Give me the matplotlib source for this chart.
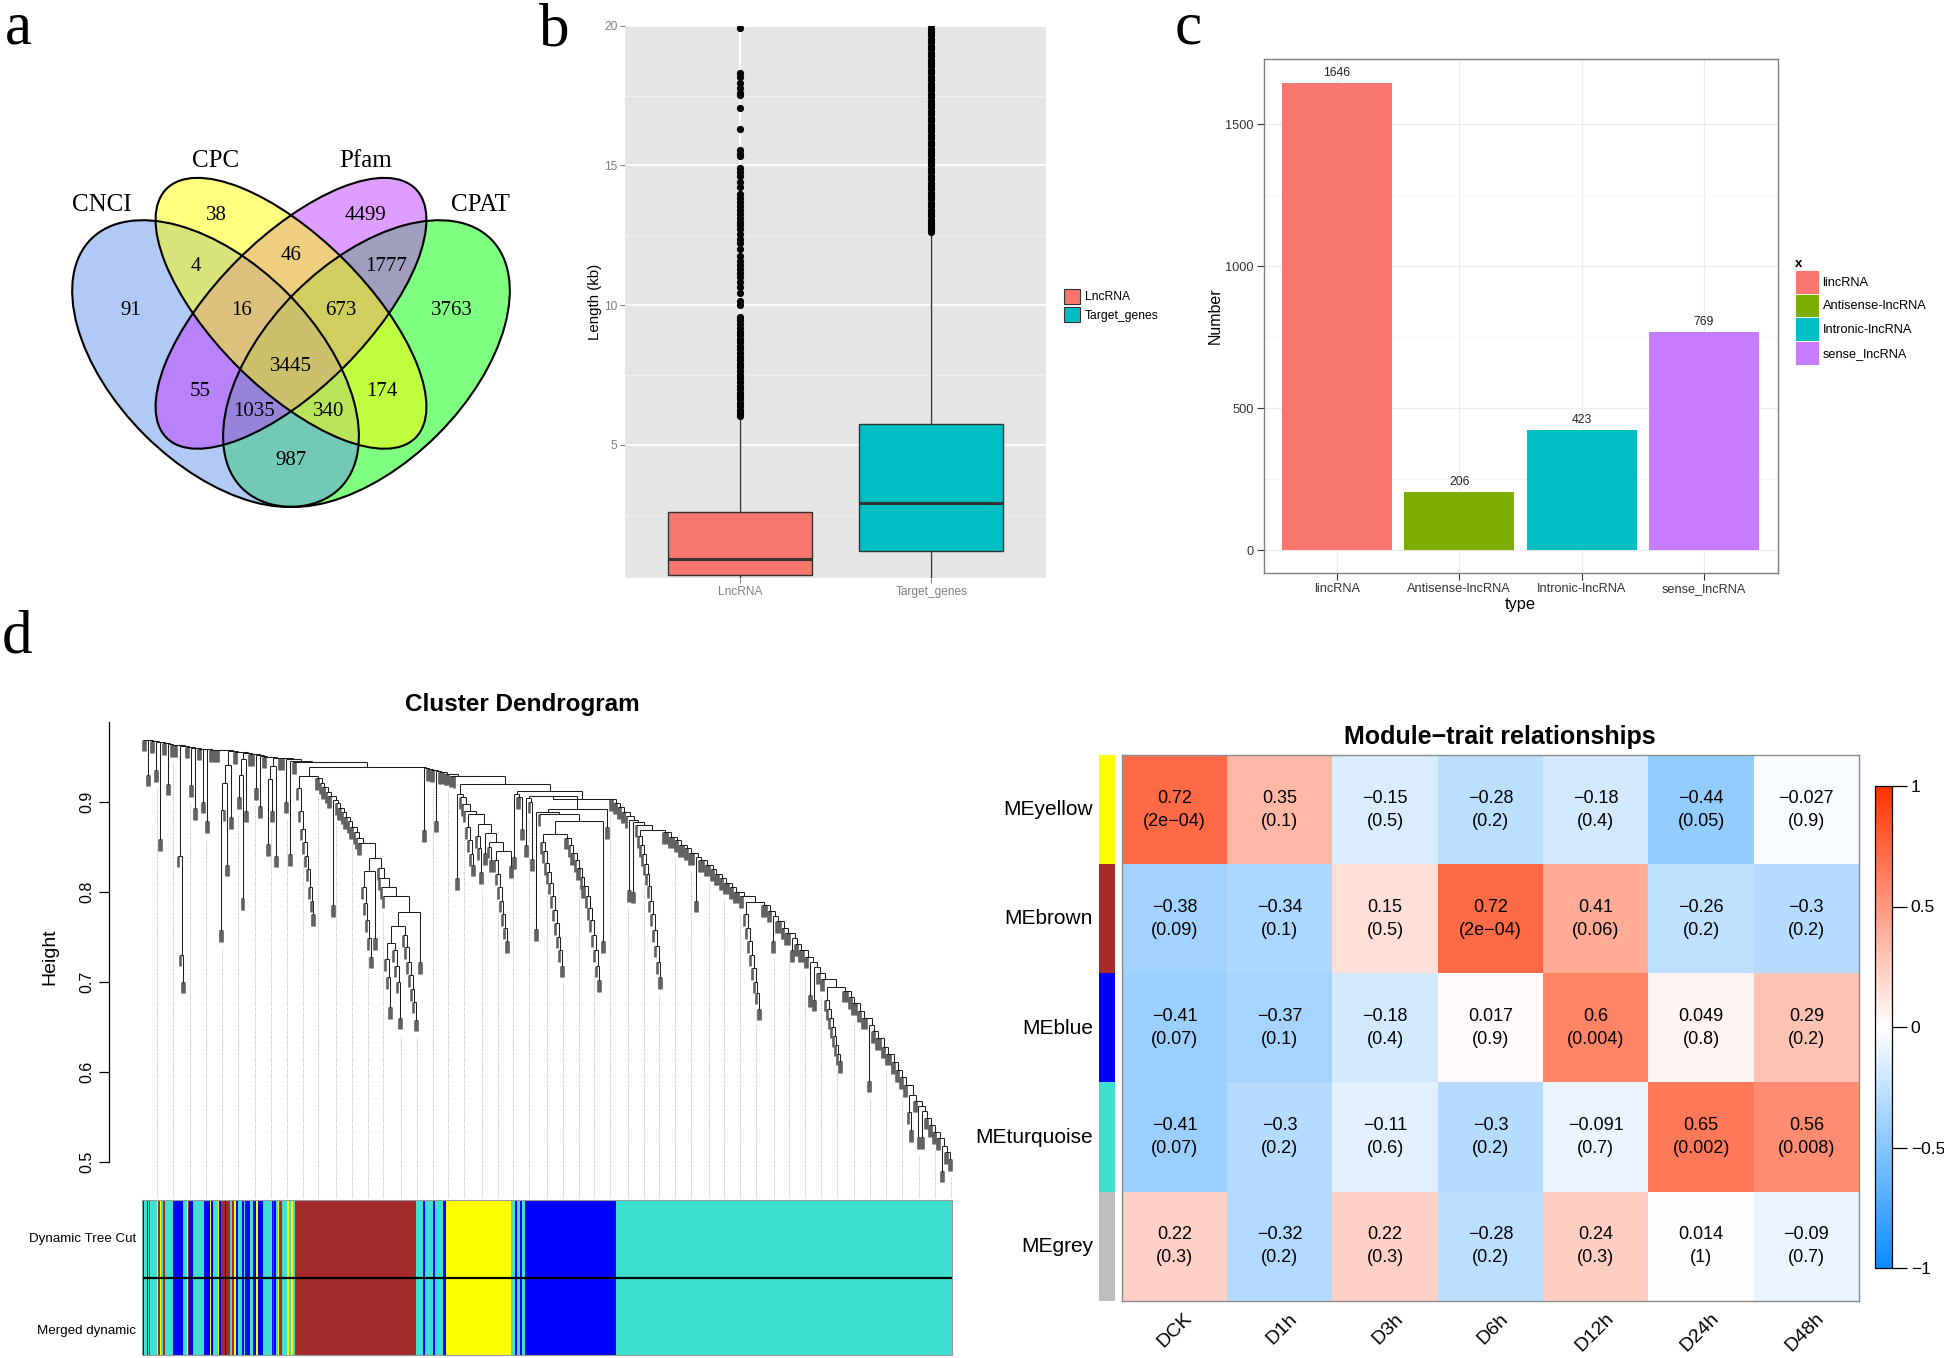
import numpy as np
import matplotlib
matplotlib.use("Agg")
import matplotlib.pyplot as plt
from matplotlib.patches import Ellipse, Patch
from matplotlib.collections import LineCollection
from matplotlib.colors import LinearSegmentedColormap, to_rgb
import matplotlib.transforms as mtransforms

plt.rcParams['font.family'] = ['Liberation Sans', 'DejaVu Sans']
SERIF = ['Liberation Serif', 'DejaVu Serif']

# ============================ DATA ============================
# Panel a: Venn diagram of coding-potential tools
venn_sets = ["CNCI", "CPC", "Pfam", "CPAT"]
venn_fill = ["#6495ED", "#FFFF00", "#BF3EFF", "#00FF00"]
venn_region_keys = ["CNCI", "CPC", "Pfam", "CPAT",
                    "CNCI&CPC", "CPC&Pfam", "Pfam&CPAT",
                    "CNCI&CPC&Pfam", "CPC&Pfam&CPAT", "CNCI&CPC&Pfam&CPAT",
                    "CNCI&Pfam", "CPC&CPAT", "CNCI&Pfam&CPAT", "CNCI&CPC&CPAT",
                    "CNCI&CPAT"]
venn_region_counts = [91, 38, 4499, 3763, 4, 46, 1777, 16, 673, 3445,
                      55, 174, 1035, 340, 987]

# Panel b: length boxplots (kb)
len_categories = ["LncRNA", "Target_genes"]
len_colors = ["#F8766D", "#00BFC4"]
len_q1 = [0.33, 1.18]
len_median = [0.92, 2.91]
len_q3 = [2.58, 5.73]
len_whisker_low = [0.05, 0.10]
len_whisker_high = [5.98, 12.56]
lnc_outliers = [19.93, 18.30, 18.16, 17.95, 17.78, 17.59, 17.52, 17.07, 16.32,
                15.54, 15.42, 15.33, 14.90, 14.76, 14.62, 14.41, 14.24, 13.98,
                13.84, 13.70, 13.56, 13.41, 13.27, 13.13, 12.99, 12.85, 12.71,
                12.54, 12.35, 12.21, 12.00, 11.74, 11.57, 11.43, 11.29, 11.15,
                11.01, 10.84, 10.65, 10.44, 10.16, 9.99, 9.59, 9.45, 9.31, 9.18,
                9.05, 8.93, 8.80, 8.66, 8.52, 8.41, 8.28, 8.15, 8.02, 7.90, 7.77,
                7.63, 7.50, 7.38, 7.25, 7.12, 7.00, 6.87, 6.74, 6.62, 6.50, 6.37,
                6.25, 6.12, 6.03]
target_outliers = [12.60, 12.71, 12.83, 12.94, 13.06, 13.19, 13.30, 13.42, 13.55,
                   13.66, 13.78, 13.91, 14.02, 14.15, 14.27, 14.38, 14.51, 14.63,
                   14.75, 14.88, 15.00, 15.12, 15.24, 15.37, 15.49, 15.60, 15.73,
                   15.85, 15.97, 16.10, 16.22, 16.34, 16.46, 16.58, 16.71, 16.83,
                   16.95, 17.08, 17.20, 17.32, 17.44, 17.57, 17.69, 17.81, 17.93,
                   18.06, 18.18, 18.30, 18.42, 18.55, 18.67, 18.79, 18.91, 19.04,
                   19.16, 19.28, 19.40, 19.53, 19.65, 19.77, 19.89, 20.02, 20.14]

# Panel c: lncRNA types
type_categories = ["lincRNA", "Antisense-lncRNA", "Intronic-lncRNA", "sense_lncRNA"]
type_counts = [1646, 206, 423, 769]
type_colors = ["#F8766D", "#7CAE00", "#00BFC4", "#C77CFF"]

# Panel d (right): module-trait relationships
traits = ["DCK", "D1h", "D3h", "D6h", "D12h", "D24h", "D48h"]
modules = ["MEyellow", "MEbrown", "MEblue", "MEturquoise", "MEgrey"]
module_colors = ["yellow", "brown", "blue", "turquoise", "grey"]
cor_values = [
    [0.72, 0.35, -0.15, -0.28, -0.18, -0.44, -0.027],
    [-0.38, -0.34, 0.15, 0.72, 0.41, -0.26, -0.3],
    [-0.41, -0.37, -0.18, 0.017, 0.6, 0.049, 0.29],
    [-0.41, -0.3, -0.11, -0.3, -0.091, 0.65, 0.56],
    [0.22, -0.32, 0.22, -0.28, 0.24, 0.014, -0.09],
]
p_values = [
    ["2e-04", "0.1", "0.5", "0.2", "0.4", "0.05", "0.9"],
    ["0.09", "0.1", "0.5", "2e-04", "0.06", "0.2", "0.2"],
    ["0.07", "0.1", "0.4", "0.9", "0.004", "0.8", "0.2"],
    ["0.07", "0.2", "0.6", "0.2", "0.7", "0.002", "0.008"],
    ["0.3", "0.2", "0.3", "0.2", "0.3", "1", "0.7"],
]

# Panel d (left): module colour runs along dendrogram leaf order (genes)
run_colors = ["turquoise", "blue", "turquoise", "blue", "turquoise", "brown", "turquoise",
              "yellow", "brown", "yellow", "turquoise", "brown", "turquoise", "blue",
              "turquoise", "yellow", "brown", "blue", "turquoise", "blue", "yellow", "blue",
              "turquoise", "yellow", "blue", "brown", "blue", "brown", "turquoise", "brown",
              "yellow", "blue", "turquoise", "blue", "turquoise", "blue", "turquoise", "blue",
              "yellow", "blue", "turquoise", "blue", "brown", "blue", "turquoise", "yellow",
              "brown", "turquoise", "yellow", "turquoise", "yellow", "turquoise", "brown",
              "turquoise", "blue", "turquoise", "blue", "turquoise", "blue", "yellow",
              "turquoise", "blue", "turquoise", "blue", "turquoise", "blue", "turquoise"]
run_sizes = [5, 3, 7, 3, 4, 3, 20, 5, 4, 4, 7, 4, 24, 32, 10, 4, 4, 10, 34, 18, 4, 6,
             15, 3, 4, 12, 4, 12, 6, 6, 5, 7, 12, 6, 4, 14, 10, 8, 6, 14, 27, 4, 4, 5, 6,
             4, 8, 14, 6, 8, 6, 5, 365, 20, 7, 23, 7, 23, 8, 197, 12, 6, 7, 8, 7, 276, 1008]

R_COLORS = {"yellow": "#FFFF00", "brown": "#A52A2A", "blue": "#0000FF",
            "turquoise": "#40E0D0", "grey": "#BEBEBE", "red": "#FF0000"}


# ---- dendrogram merge structure (heights) ----
def P(h):
    return (h, 'L', 'L')


def S(steps, tail):
    """staircase descending to the right: each step joins a child at height h"""
    node = tail
    for h, child in reversed(steps):
        if isinstance(child, int):
            for _ in range(child):
                node = (h, 'L', node)
        else:
            node = (h, child, node)
    return node


# turquoise module (right-hand cascade), built from the bottom up
T_i = S([(0.568, 2), (0.562, P(0.527)), (0.556, P(0.527)), (0.549, 2), (0.541, 2),
         (0.533, 2), (0.526, 2), (0.518, P(0.490)), (0.511, 2)], P(0.503))
T_h = (0.574, S([(0.555, 1)], P(0.535)), T_i)
T_g = S([(0.690, 3), (0.683, 2), (0.676, 3), (0.668, 2), (0.660, 3), (0.652, P(0.590)),
         (0.645, 2), (0.637, 3), (0.628, 2), (0.620, 3), (0.611, 2), (0.602, 2),
         (0.594, 2), (0.585, 2)], T_h)
T_f = (0.694, S([(0.680, 1), (0.670, 1), (0.660, 1), (0.650, 1), (0.640, 1), (0.630, 1),
                 (0.620, 1)], P(0.612)), T_g)
T_e = S([(0.785, 3), (0.779, 2), (0.773, P(0.745)), (0.767, 3), (0.760, 2), (0.754, 3),
         (0.748, P(0.735)), (0.742, 2), (0.735, 3), (0.728, 2), (0.722, P(0.685)),
         (0.716, P(0.680)), (0.710, 2), (0.703, 2)], T_f)
T_d = (0.788, S([(0.775, 1), (0.760, 1), (0.745, 1), (0.730, 1), (0.715, 1), (0.700, 1),
                 (0.688, 1)], P(0.670)), T_e)
T_c = S([(0.866, 3), (0.861, 3), (0.857, 2), (0.852, 3), (0.848, 2), (0.843, 3),
         (0.839, P(0.790)), (0.835, 3), (0.830, 3), (0.825, 2), (0.820, 3), (0.815, 2),
         (0.810, 3), (0.805, 2), (0.800, 3), (0.795, 2)], T_d)
T_b = (0.869, S([(0.862, 1), (0.852, 1), (0.842, 1), (0.831, 1), (0.820, 1), (0.806, 1),
                 (0.790, 1), (0.775, 1), (0.757, 1), (0.740, 1), (0.722, 1)], P(0.705)), T_c)
TURQ = S([(0.903, 2), (0.899, 2), (0.894, 2), (0.889, 2), (0.884, 1), (0.880, P(0.802)),
          (0.877, P(0.800)), (0.874, 1)], T_b)

# blue module
B_left = S([(0.855, 1), (0.845, 1), (0.832, 1), (0.822, 1), (0.810, 1), (0.795, 1),
            (0.780, 1), (0.765, 1), (0.750, 1), (0.735, 1)], P(0.718))
B_right = S([(0.860, 2), (0.852, 1), (0.843, 2), (0.835, 1), (0.826, 2), (0.816, 1),
             (0.806, 2), (0.795, 1), (0.782, 1), (0.768, 1), (0.752, 1), (0.735, 1),
             (0.718, 1)], P(0.702))
B_core = (0.878, (0.864, B_left, B_right), P(0.745))
B_mid = (0.892, S([(0.889, P(0.758)), (0.886, 1)], B_core), P(0.872))
BLUE = (0.906, S([(0.904, P(0.852)), (0.900, 1)], P(0.836)), B_mid)

A1 = S([(0.908, P(0.838)), (0.905, 2)], P(0.870))

# yellow module
Y_e = (0.845, S([(0.835, 1), (0.820, 1), (0.805, 1), (0.790, 1), (0.775, 1), (0.760, 1)],
                P(0.745)), P(0.828))
Y_d = (0.855, S([(0.850, 1)], P(0.835)), Y_e)
Y_c = (0.865, P(0.843), Y_d)
Y_b = (0.875, S([(0.862, 1), (0.848, 1)], P(0.822)), Y_c)
Y_a = (0.886, S([(0.872, 1), (0.857, 1), (0.842, 1)], P(0.830)), Y_b)
YELLOW = S([(0.909, P(0.815)), (0.905, 1), (0.897, 1), (0.890, 1)], Y_a)

RIGHT = S([(0.937, P(0.868)), (0.936, 2), (0.935, 2), (0.934, P(0.879)), (0.933, 3),
           (0.931, 3), (0.929, 2), (0.928, 1)],
          (0.920, YELLOW, (0.912, A1, (0.903, BLUE, TURQ))))

# brown module
Br_deep = (0.777,
           (0.762,
            (0.743, S([(0.725, 1), (0.705, 1)], P(0.672)),
             S([(0.735, 1), (0.718, 1), (0.700, 1)], P(0.660))),
            S([(0.752, 1), (0.738, 1), (0.722, 1), (0.707, 1), (0.692, 1), (0.678, 1)],
              P(0.658))),
           P(0.722))
Br_sub = (0.837,
          (0.823, S([(0.805, 1), (0.787, 1), (0.768, 1), (0.748, 1)], P(0.728)), P(0.748)),
          S([(0.826, 1), (0.815, 1), (0.805, 1), (0.795, 1)], Br_deep))
Br_right = S([(0.926, 2), (0.921, 1), (0.916, 2), (0.911, 1), (0.906, 2), (0.902, P(0.785)),
              (0.898, 1), (0.893, 2), (0.888, 1), (0.883, 2), (0.878, 1), (0.872, 2),
              (0.866, 1), (0.860, 1), (0.854, 2)], Br_sub)
Br_left = S([(0.915, 1), (0.890, 1), (0.870, 1), (0.855, 1), (0.840, 1), (0.825, 1),
             (0.805, 1), (0.790, 1)], P(0.775))
BROWN = (0.928, Br_left, Br_right)

# top-left cascade joining everything
DENDRO = S([
    (0.969, 2), (0.968, P(0.930)), (0.967, 2), (0.9665, P(0.935)), (0.966, P(0.858)),
    (0.965, 2), (0.964, P(0.920)), (0.963, 4),
    (0.962, S([(0.840, 1), (0.730, 1)], P(0.700))),
    (0.961, 2), (0.960, P(0.918)), (0.9595, P(0.893)), (0.959, 2), (0.9585, P(0.900)),
    (0.958, P(0.878)), (0.957, 5),
    (0.956, (0.941, (0.921, (0.891, P(0.757), 'L'), P(0.830)), P(0.883))),
    (0.955, 2),
    (0.9545, (0.947, (0.930, P(0.905), P(0.793)), P(0.890))),
    (0.953, 3), (0.952, P(0.915)), (0.951, P(0.895)), (0.950, 2),
    (0.949, (0.940, (0.925, P(0.853), P(0.890)), P(0.840))),
    (0.948, 3), (0.947, P(0.900)), (0.9455, P(0.842)), (0.944, 2)],
    (0.938, BROWN, RIGHT))

# ============================ FIGURE ============================
W, H, DPI = 1944, 1358, 100
fig = plt.figure(figsize=(W / DPI, H / DPI), dpi=DPI)


def px_axes(x0, y0, x1, y1):
    return fig.add_axes([x0 / W, 1 - y1 / H, (x1 - x0) / W, (y1 - y0) / H])


def ftext(x, y, s, **kw):
    return fig.text(x / W, 1 - y / H, s, **kw)


# panel letters
for lab, x, y in [("a", 5, 44), ("b", 539, 45), ("c", 1175, 43), ("d", 2, 652)]:
    ftext(x, y, lab, fontsize=44, family=SERIF, ha='left', va='baseline')

# ---------------- a: Venn ----------------
va = px_axes(39.5, 97, 542.5, 600)
va.set_xlim(0, 1)
va.set_ylim(0, 1)
va.axis('off')
ell_geom = {"CNCI": (0.35, 0.47, 0.35, 0.20, 135), "CPC": (0.50, 0.57, 0.35, 0.15, 135),
            "Pfam": (0.50, 0.57, 0.35, 0.15, 45), "CPAT": (0.65, 0.47, 0.35, 0.20, 45)}
draw_order = ["CPAT", "CNCI", "Pfam", "CPC"]
for name in draw_order:
    cx, cy, a, b, ang = ell_geom[name]
    col = venn_fill[venn_sets.index(name)]
    va.add_patch(Ellipse((cx, cy), 2 * a, 2 * b, angle=ang, facecolor=col, alpha=0.5,
                         edgecolor='none'))
for name in venn_sets:
    cx, cy, a, b, ang = ell_geom[name]
    va.add_patch(Ellipse((cx, cy), 2 * a, 2 * b, angle=ang, facecolor='none',
                         edgecolor='black', lw=1.5))
region_pos = {"CNCI": (0.181, 0.575), "CPC": (0.351, 0.765), "Pfam": (0.649, 0.765),
              "CPAT": (0.820, 0.575), "CNCI&CPC": (0.311, 0.664), "CPC&Pfam": (0.5, 0.685),
              "Pfam&CPAT": (0.690, 0.664), "CNCI&CPC&Pfam": (0.402, 0.575),
              "CPC&Pfam&CPAT": (0.599, 0.575), "CNCI&CPC&Pfam&CPAT": (0.5, 0.465),
              "CNCI&Pfam": (0.319, 0.414), "CPC&CPAT": (0.681, 0.414),
              "CNCI&Pfam&CPAT": (0.426, 0.374), "CNCI&CPC&CPAT": (0.575, 0.374),
              "CNCI&CPAT": (0.5, 0.277)}
for key, cnt in zip(venn_region_keys, venn_region_counts):
    x, y = region_pos[key]
    va.text(x, y, str(cnt), ha='center', va='center', fontsize=15, family=SERIF)
set_pos = {"CNCI": (0.124, 0.785), "CPC": (0.351, 0.873), "Pfam": (0.649, 0.873),
           "CPAT": (0.877, 0.785)}
for name in venn_sets:
    x, y = set_pos[name]
    va.text(x, y, name, ha='center', va='center', fontsize=18, family=SERIF)

# ---------------- b: boxplot ----------------
axb = px_axes(625, 25.7, 1046, 578)
axb.set_facecolor('#E5E5E5')
stats = []
for i, c in enumerate(len_categories):
    fl = lnc_outliers if i == 0 else target_outliers
    stats.append(dict(med=len_median[i], q1=len_q1[i], q3=len_q3[i],
                      whislo=len_whisker_low[i], whishi=len_whisker_high[i],
                      fliers=np.array(fl), label=c))
bp = axb.bxp(stats, positions=[1, 2], widths=0.75, patch_artist=True, showcaps=False,
             boxprops=dict(edgecolor='#333333', linewidth=1.0),
             medianprops=dict(color='#333333', linewidth=2.2),
             whiskerprops=dict(color='#333333', linewidth=1.0),
             flierprops=dict(marker='o', markerfacecolor='black', markeredgecolor='black',
                             markersize=4.2, linestyle='none'))
for patch, col in zip(bp['boxes'], len_colors):
    patch.set_facecolor(col)
axb.set_xlim(0.4, 2.6)
axb.set_ylim(0.23, 20.0)
axb.set_yticks([5, 10, 15, 20])
axb.set_yticks([2.5, 7.5, 12.5, 17.5], minor=True)
axb.set_xticks([1, 2])
axb.set_xticklabels(len_categories)
axb.set_axisbelow(True)
axb.grid(which='major', color='white', lw=1.3)
axb.grid(which='minor', axis='y', color='#F2F2F2', lw=0.6)
axb.tick_params(which='minor', length=0)
axb.tick_params(which='major', length=3.5, color='#7F7F7F', labelcolor='#7F7F7F',
                labelsize=8.6, pad=2)
for s in axb.spines.values():
    s.set_visible(False)
ftext(595, 302, "Length (kb)", rotation=90, ha='center', va='center', fontsize=10.8)
hb = [Patch(facecolor=c, edgecolor='#333333', lw=0.8) for c in len_colors]
axb.legend(hb, len_categories, loc='center left', bbox_to_anchor=(1064 / W, 1 - 305.5 / H),
           bbox_transform=fig.transFigure, frameon=False, fontsize=8.7, handlelength=1.3,
           handleheight=1.5, labelspacing=0.3, handletextpad=0.4, borderpad=0,
           borderaxespad=0)

# ---------------- c: bar chart ----------------
axc = px_axes(1263.5, 59.3, 1777.5, 573.4)
xc = np.arange(1, len(type_counts) + 1)
axc.bar(xc, type_counts, width=0.9, color=type_colors, zorder=2)
ymax = max(type_counts)
axc.set_xlim(0.4, len(type_counts) + 0.6)
axc.set_ylim(-0.05 * ymax, 1.05 * ymax)
axc.set_yticks([0, 500, 1000, 1500])
axc.set_yticks([250, 750, 1250], minor=True)
axc.set_xticks(xc)
axc.set_xticklabels(type_categories)
axc.set_axisbelow(True)
axc.grid(which='major', color='#EBEBEB', lw=0.9)
axc.grid(which='minor', axis='y', color='#F5F5F5', lw=0.6)
axc.tick_params(which='minor', length=0)
axc.tick_params(which='major', length=5, color='#333333', labelcolor='#333333',
                labelsize=9.2, pad=2)
for s in axc.spines.values():
    s.set_color('#7F7F7F')
    s.set_linewidth(1.0)
for xi, v in zip(xc, type_counts):
    axc.annotate(str(v), (xi, v), xytext=(0, 2.5), textcoords='offset points',
                 ha='center', va='bottom', fontsize=8.8, color='#222222')
ftext(1215, 316, "Number", rotation=90, ha='center', va='center', fontsize=11.5)
ftext(1520, 605, "type", ha='center', va='center', fontsize=11.8)
hc = [Patch(facecolor=c, edgecolor='white', lw=0.6) for c in type_colors]
legc = axc.legend(hc, type_categories, title='x', loc='upper left',
                  bbox_to_anchor=(1795 / W, 1 - 258 / H), bbox_transform=fig.transFigure,
                  frameon=False, fontsize=9.2, handlelength=1.85, handleheight=2.47,
                  labelspacing=0.0, handletextpad=0.3, borderpad=0, borderaxespad=0,
                  alignment='left', title_fontproperties={'weight': 'bold', 'size': 9.5})

# ---------------- d left: dendrogram ----------------
HANG = 0.013
inner_segs, leaf_segs, tips = [], [], []
counter = [0]


def draw_tree(node, parent_h):
    if node == 'L':
        x = counter[0]
        counter[0] += 1
        tip = parent_h - HANG
        leaf_segs.append([(x, tip), (x, parent_h)])
        tips.append(tip)
        return x
    h, left, right = node
    xl = draw_tree(left, h)
    xr = draw_tree(right, h)
    inner_segs.append([(xl, h), (xr, h)])
    x = (xl + xr) / 2.0
    if parent_h is not None:
        inner_segs.append([(x, h), (x, parent_h)])
    return x


draw_tree(DENDRO, None)
N = counter[0]
LEAF_L, LEAF_R = 142.0, 952.0
ppl = (LEAF_R - LEAF_L) / N
axd = px_axes(109, 715, 953, 1198)
axd.set_xlim((109 - LEAF_L) / ppl - 0.5, (953 - LEAF_L) / ppl - 0.5)
YB, YT = 0.4597, 0.9963
axd.set_ylim(YB, YT)
guide_idx = [int(round((k + 1) * N / 50.0)) - 1 for k in range(50)]
for gi in guide_idx:
    axd.vlines(gi, YB, tips[gi] - 0.006, colors='#B0B0B0', linestyles=(0, (1.0, 1.5)),
               lw=0.7)
axd.add_collection(LineCollection(leaf_segs, colors='#606060', linewidths=1.9))
axd.add_collection(LineCollection(inner_segs, colors='#1E1E1E', linewidths=0.75))
for s in ['top', 'right', 'bottom']:
    axd.spines[s].set_visible(False)
axd.spines['left'].set_bounds(0.5, 0.989)
axd.spines['left'].set_linewidth(0.9)
axd.set_xticks([])
axd.set_yticks([0.5, 0.6, 0.7, 0.8, 0.9])
axd.set_yticklabels(["0.5", "0.6", "0.7", "0.8", "0.9"], rotation=90, va='center')
axd.tick_params(axis='y', length=7.5, width=0.9, labelsize=11.5, pad=3)
ftext(50, 957, "Height", rotation=90, ha='center', va='center', fontsize=14)
ftext(522, 704, "Cluster Dendrogram", ha='center', va='center', fontsize=17.5,
      fontweight='bold')

# module colour bars
axm = px_axes(141.7, 1200, 952, 1355)
starts = np.concatenate([[0], np.cumsum(run_sizes)[:-1]])
total = int(np.sum(run_sizes))
for row in (0, 1):
    axm.broken_barh(list(zip(starts, run_sizes)), (row, 1),
                    facecolors=[R_COLORS[c] for c in run_colors], edgecolor='none')
axm.set_xlim(0, total)
axm.set_ylim(2, 0)
axm.axhline(1, color='black', lw=1.6)
axm.set_xticks([])
axm.set_yticks([])
for s in axm.spines.values():
    s.set_color('#9A9A9A')
    s.set_linewidth(0.8)
ftext(136, 1239, "Dynamic Tree Cut", ha='right', va='center', fontsize=9.6)
ftext(136, 1331, "Merged dynamic", ha='right', va='center', fontsize=9.6)

# ---------------- d right: module-trait heatmap ----------------
cmap = LinearSegmentedColormap.from_list("bwr_wgcna", [(0.05, 0.55, 1.0), (1, 1, 1),
                                                       (1.0, 0.2, 0.0)], N=256)
axh = px_axes(1122, 755, 1859, 1301)
cor = np.array(cor_values)
im = axh.imshow(cor, cmap=cmap, vmin=-1, vmax=1, aspect='auto', interpolation='nearest')
axh.set_xticks([])
axh.set_yticks([])
for s in axh.spines.values():
    s.set_color('#8C8C8C')
    s.set_linewidth(1.0)
for i in range(cor.shape[0]):
    for j in range(cor.shape[1]):
        txt = f"{cor[i, j]:g}".replace('-', '\u2212') + "\n(" + \
              p_values[i][j].replace('-', '\u2212') + ")"
        axh.text(j, i, txt, ha='center', va='center', fontsize=13, linespacing=1.45)
off_col = mtransforms.offset_copy(axh.transData, fig=fig, x=21, y=-9, units='dots')
for j, t in enumerate(traits):
    axh.text(j, cor.shape[0] - 0.5, t, rotation=45, ha='right', va='top', fontsize=14,
             transform=off_col)
off_row = mtransforms.offset_copy(axh.transData, fig=fig, x=-29, y=0, units='dots')
for i, m in enumerate(modules):
    axh.text(-0.5, i, m, ha='right', va='center', fontsize=15, transform=off_row)
ftext(1500, 737, "Module\u2212trait relationships", ha='center', va='center',
      fontsize=18, fontweight='bold')

axs = px_axes(1099, 755, 1115, 1301)
axs.imshow(np.array([[to_rgb(R_COLORS[c])] for c in module_colors]), aspect='auto',
           interpolation='nearest')
axs.axis('off')

cax = px_axes(1875, 786, 1892, 1268)
cb = fig.colorbar(im, cax=cax)
cticks = [-1, -0.5, 0, 0.5, 1]
cb.set_ticks(cticks)
cb.set_ticklabels([f"{t:g}".replace('-', '\u2212') for t in cticks])
cb.outline.set_linewidth(0.9)
cax.tick_params(length=11, width=0.9, labelsize=12.5, pad=2.5)

fig.savefig("out.png", dpi=DPI)
